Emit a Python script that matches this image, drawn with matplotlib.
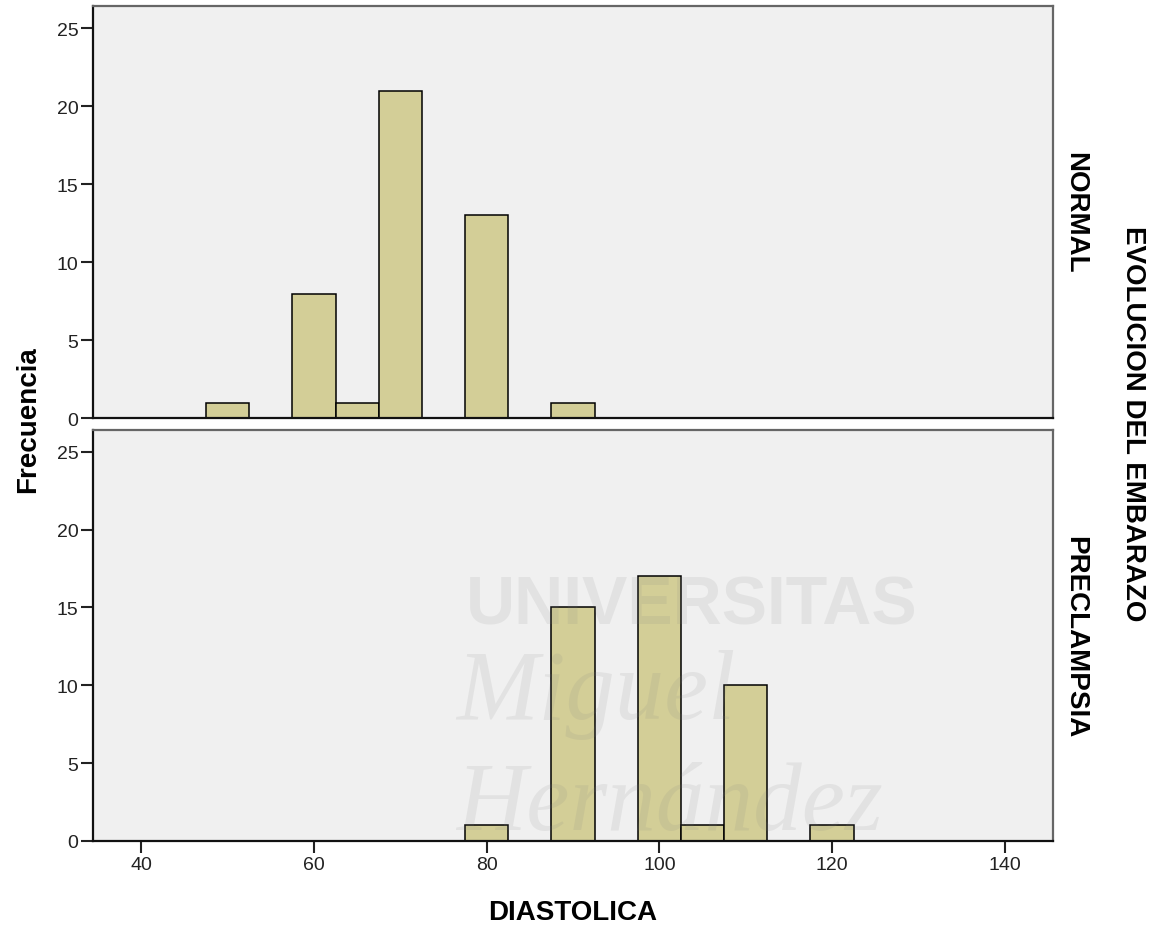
import numpy as np
import matplotlib
matplotlib.use('Agg')
import matplotlib.pyplot as plt

plt.rcParams['font.family'] = ['Liberation Sans', 'DejaVu Sans']

# Diastolic pressure bins (centres, width 5) and counts per outcome group
bins_normal = [50, 60, 65, 70, 80, 90]
freq_normal = [1, 8, 1, 21, 13, 1]
bins_preclampsia = [80, 90, 100, 105, 110, 120]
freq_preclampsia = [1, 15, 17, 1, 10, 1]
groups = ['NORMAL', 'PRECLAMPSIA']
x_ticks = [40, 60, 80, 100, 120, 140]
y_ticks = [0, 5, 10, 15, 20, 25]

bar_width = 5
bar_color = '#d3ce97'
panel_bg = '#f0f0f0'
label_kw = dict(fontsize=20, fontweight='bold', ha='center', va='center')

fig = plt.figure(figsize=(11.58, 9.28), dpi=100)
ax_top = fig.add_axes([0.0799, 0.5480, 0.8295, 0.4442])
ax_bot = fig.add_axes([0.0799, 0.0927, 0.8295, 0.4429])

panels = [(ax_top, bins_normal, freq_normal),
          (ax_bot, bins_preclampsia, freq_preclampsia)]

for ax, bins, freq in panels:
    ax.set_facecolor(panel_bg)
    ax.bar(bins, freq, width=bar_width, color=bar_color,
           edgecolor='black', linewidth=1.1, zorder=2)
    ax.set_xlim(34.35, 145.6)
    ax.set_ylim(0, 26.4)
    ax.set_yticks(y_ticks)
    ax.tick_params(axis='y', direction='out', length=8.6, width=1.5,
                   labelsize=14, colors='#222222', pad=1.5)
    for side in ['top', 'right']:
        ax.spines[side].set_color('#666666')
        ax.spines[side].set_linewidth(1.6)
    for side in ['left', 'bottom']:
        ax.spines[side].set_color('#111111')
        ax.spines[side].set_linewidth(1.6)

ax_top.set_xticks([])
ax_bot.set_xticks(x_ticks)
ax_bot.tick_params(axis='x', direction='out', length=8.6, width=1.5,
                   labelsize=14, colors='#222222', pad=2)

# faint university stamp over the lower panel
wm = dict(color='#808080', alpha=0.12, zorder=5, transform=ax_bot.transData)
ax_bot.text(77.6, 14.0, 'UNIVERSITAS', fontsize=49, fontweight='bold',
            ha='left', va='baseline', **wm)
ax_bot.text(76.5, 7.9, 'Miguel', fontsize=71, style='italic',
            family='Liberation Serif', ha='left', va='baseline', **wm)
ax_bot.text(76.5, 0.8, 'Hernández', fontsize=70, style='italic',
            family='Liberation Serif', ha='left', va='baseline', **wm)

# axis titles and group labels
fig.text(0.0242, 0.5474, 'Frecuencia', rotation=90, **label_kw)
fig.text(0.4946, 0.0086, 'DIASTOLICA', fontsize=20, fontweight='bold',
         ha='center', va='baseline')
fig.text(0.9283, 0.771, groups[0], rotation=-90, **label_kw)
fig.text(0.9283, 0.313, groups[1], rotation=-90, **label_kw)
fig.text(0.9784, 0.5436, 'EVOLUCION DEL EMBARAZO', rotation=-90, **label_kw)

fig.savefig('out.png', dpi=100, facecolor='white')
